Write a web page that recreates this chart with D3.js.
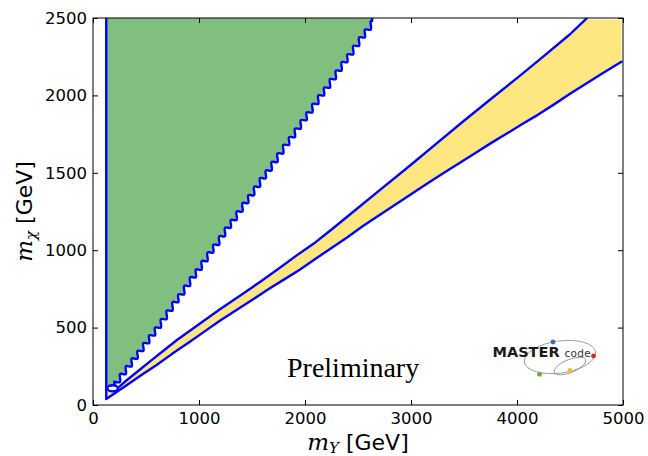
<!DOCTYPE html>
<html>
<head>
<meta charset="utf-8">
<script src="https://cdn.jsdelivr.net/npm/d3@7"></script>
<style>
  body { margin: 0; background: #fff; }
  svg { display: block; }
</style>
</head>
<body>
<svg id="chart" width="648" height="456"></svg>
<script>
// Axis ticks (GeV)
const xTicks = [0, 1000, 2000, 3000, 4000, 5000];
const yTicks = [0, 500, 1000, 1500, 2000, 2500];

// Vertical boundary at m_Y ≈ 125 GeV (m_Y, m_chi)
const leftEdge = [[125, 2500], [125, 39]];

// Right edge of the green region, sampled on the scan grid (m_Y, m_chi)
const stairEdge = [
  [200, 150], [255, 200], [310, 250], [365, 300], [420, 350], [475, 400],
  [530, 450], [585, 500], [640, 555], [695, 610], [750, 665], [805, 715],
  [860, 770], [915, 825], [970, 875], [1025, 930], [1080, 985], [1135, 1035],
  [1190, 1090], [1245, 1145], [1300, 1195], [1355, 1250], [1410, 1305],
  [1465, 1355], [1520, 1410], [1575, 1465], [1630, 1515], [1685, 1570],
  [1740, 1625], [1795, 1680], [1850, 1730], [1905, 1785], [1960, 1840],
  [2015, 1890], [2070, 1945], [2125, 2000], [2180, 2050], [2235, 2105],
  [2290, 2160], [2345, 2215], [2400, 2265], [2455, 2320], [2510, 2375],
  [2565, 2425], [2620, 2480], [2632, 2500]
];

// Upper edge of the yellow band (m_Y, m_chi)
const upperEdge = [
  [250, 118], [300, 150], [400, 205], [550, 288], [700, 370], [792, 420],
  [1000, 522], [1198, 618], [1400, 712], [1575, 795], [1750, 880],
  [1925, 968], [2100, 1052], [2236, 1126], [2450, 1245], [2708, 1390],
  [3000, 1552], [3245, 1692], [3500, 1836], [3745, 1972], [4000, 2112],
  [4250, 2252], [4500, 2395], [4645, 2490], [4660, 2500]
];

// Lower edge of the yellow band (m_Y, m_chi)
const lowerEdge = [
  [125, 39], [300, 120], [450, 190], [600, 258], [750, 332], [900, 402],
  [1050, 474], [1200, 546], [1350, 612], [1500, 678], [1650, 746],
  [1800, 810], [1950, 874], [2100, 945], [2250, 1014], [2400, 1084],
  [2550, 1158], [2700, 1226], [2850, 1294], [3000, 1362], [3150, 1430],
  [3300, 1495], [3450, 1560], [3600, 1625], [3750, 1690], [3900, 1752],
  [4050, 1815], [4200, 1876], [4350, 1942], [4500, 2010], [4650, 2076],
  [4800, 2140], [4900, 2182], [4985, 2218]
];

// Small closed contour near the corner (centre and half-widths in GeV)
const loopContour = { mY: 185, mChi: 108, dY: 50, dChi: 20 };

const svg = d3.select("#chart");
const W = 648, H = 456;
const margin = { left: 93, right: 25, top: 18, bottom: 51 };

const x = d3.scaleLinear().domain([0, 5000]).range([margin.left, W - margin.right]);
const y = d3.scaleLinear().domain([0, 2500]).range([H - margin.bottom, margin.top]);

const pts = arr => arr.map(d => [x(d[0]), y(d[1])]);
const line = d3.line();
const soft = d3.line().curve(d3.curveCatmullRom.alpha(0.5));

// turn grid samples into step corners: across, then up
function stairs(arr) {
  const out = [arr[0]];
  for (let i = 1; i < arr.length; i++) {
    out.push([arr[i][0], arr[i - 1][1]], arr[i]);
  }
  return out;
}

svg.append("defs").append("clipPath").attr("id", "plot")
  .append("rect")
  .attr("x", x(0)).attr("y", y(2500))
  .attr("width", x(5000) - x(0)).attr("height", y(0) - y(2500));

const plot = svg.append("g").attr("clip-path", "url(#plot)");

// grid-contour edge, with the corners rounded off
const stairPath = soft(pts(stairs(stairEdge)));

// green region
const greenHead = line(pts([[125, 2500], [125, 130], [200, 130]]));
plot.append("path")
  .attr("d", greenHead + stairPath.replace(/^M/, "L") + "Z")
  .attr("fill", "#80bf80")
  .attr("stroke", "none");

// yellow band
const yellowPoly = lowerEdge
  .concat([[4985, 2490]])
  .concat(upperEdge.slice(0, -1).slice().reverse())
  .concat([[200, 95], [125, 80]]);
plot.append("path")
  .attr("d", line(pts(yellowPoly)) + "Z")
  .attr("fill", "#fee780")
  .attr("stroke", "none");

// contour lines
const blue = "#0000ff";
const lw = 2.4;
function contour(d) {
  plot.append("path")
    .attr("d", d)
    .attr("fill", "none")
    .attr("stroke", blue)
    .attr("stroke-width", lw)
    .attr("stroke-linejoin", "round")
    .attr("stroke-linecap", "round");
}
contour(line(pts(leftEdge.concat(lowerEdge.slice(1)))));
contour(line(pts(upperEdge)));
contour(line(pts([[205, 128], [200, 150]])) + stairPath.replace(/^M/, "L"));

plot.append("ellipse")
  .attr("cx", x(loopContour.mY))
  .attr("cy", y(loopContour.mChi))
  .attr("rx", x(loopContour.dY) - x(0))
  .attr("ry", y(0) - y(loopContour.dChi))
  .attr("fill", "#fff")
  .attr("stroke", blue)
  .attr("stroke-width", lw);

// frame
svg.append("rect")
  .attr("x", x(0)).attr("y", y(2500))
  .attr("width", x(5000) - x(0)).attr("height", y(0) - y(2500))
  .attr("fill", "none").attr("stroke", "#000").attr("stroke-width", 1);

// axes with inward ticks on all four sides
const tickFont = "'DejaVu Sans', sans-serif";
function styleAxis(g) {
  g.select(".domain").remove();
  g.selectAll(".tick line").attr("stroke", "#000").attr("stroke-width", 1);
  g.selectAll(".tick text")
    .attr("fill", "#000")
    .style("font-family", tickFont)
    .style("font-size", "16.5px");
}

svg.append("g")
  .attr("transform", `translate(0,${y(0)})`)
  .call(d3.axisBottom(x).tickValues(xTicks).tickFormat(d3.format("d"))
        .tickSizeInner(-5).tickSizeOuter(0).tickPadding(7))
  .call(styleAxis);

svg.append("g")
  .attr("transform", `translate(0,${y(2500)})`)
  .call(d3.axisTop(x).tickValues(xTicks).tickFormat("")
        .tickSizeInner(-5).tickSizeOuter(0))
  .call(styleAxis);

svg.append("g")
  .attr("transform", `translate(${x(0)},0)`)
  .call(d3.axisLeft(y).tickValues(yTicks).tickFormat(d3.format("d"))
        .tickSizeInner(-5).tickSizeOuter(0).tickPadding(6))
  .call(styleAxis);

svg.append("g")
  .attr("transform", `translate(${x(5000)},0)`)
  .call(d3.axisRight(y).tickValues(yTicks).tickFormat("")
        .tickSizeInner(-5).tickSizeOuter(0))
  .call(styleAxis);

// axis titles
const mathFont = "'DejaVu Serif', serif";
const xTitle = svg.append("text")
  .attr("x", (x(0) + x(5000)) / 2)
  .attr("y", 450)
  .attr("text-anchor", "middle")
  .attr("fill", "#000");
xTitle.append("tspan").text("m")
  .style("font-family", mathFont).style("font-style", "italic").style("font-size", "23px");
xTitle.append("tspan").text("Y").attr("dy", 3)
  .style("font-family", mathFont).style("font-style", "italic").style("font-size", "15px");
xTitle.append("tspan").text(" [GeV]").attr("dy", -3)
  .style("font-family", tickFont).style("font-size", "22px");

const yTitle = svg.append("text")
  .attr("transform", `translate(32,${(y(0) + y(2500)) / 2}) rotate(-90)`)
  .attr("text-anchor", "middle")
  .attr("fill", "#000");
yTitle.append("tspan").text("m")
  .style("font-family", mathFont).style("font-style", "italic").style("font-size", "23px");
yTitle.append("tspan").text("χ").attr("dy", 4)
  .style("font-family", mathFont).style("font-style", "italic").style("font-size", "15px");
yTitle.append("tspan").text(" [GeV]").attr("dy", -4)
  .style("font-family", tickFont).style("font-size", "22px");

// watermark text
svg.append("text")
  .attr("x", 287).attr("y", 377)
  .style("font-family", "'Liberation Serif', 'Times New Roman', serif")
  .style("font-size", "28px")
  .attr("fill", "#000")
  .text("Preliminary");

// MasterCode logo
const logo = svg.append("g");
logo.append("ellipse")
  .attr("cx", 560).attr("cy", 357).attr("rx", 36).attr("ry", 16)
  .attr("transform", "rotate(-8,560,357)")
  .attr("fill", "none").attr("stroke", "#8a8a8a").attr("stroke-width", 0.8);
logo.append("ellipse")
  .attr("cx", 570).attr("cy", 366).attr("rx", 17).attr("ry", 6.5)
  .attr("transform", "rotate(-22,570,366)")
  .attr("fill", "none").attr("stroke", "#8a8a8a").attr("stroke-width", 0.8);
logo.append("text")
  .attr("x", 492.5).attr("y", 357.3)
  .style("font-family", "'DejaVu Sans', sans-serif")
  .style("font-weight", "bold").style("font-size", "14.5px")
  .attr("fill", "#1a1a1a")
  .text("MASTER");
logo.append("text")
  .attr("x", 564.5).attr("y", 357)
  .style("font-family", "'DejaVu Sans', sans-serif")
  .style("font-size", "10.5px")
  .style("letter-spacing", "0.3px")
  .attr("fill", "#333")
  .text("code");
const dots = [
  { cx: 553, cy: 342, c: "#3a6db5" },
  { cx: 593.5, cy: 356, c: "#d0302c" },
  { cx: 539.5, cy: 374.3, c: "#6aa83a" },
  { cx: 570, cy: 370.3, c: "#f0c020" }
];
logo.selectAll("circle.dot").data(dots).enter().append("circle")
  .attr("class", "dot")
  .attr("cx", d => d.cx).attr("cy", d => d.cy).attr("r", 2.4)
  .attr("fill", d => d.c);
</script>
</body>
</html>
